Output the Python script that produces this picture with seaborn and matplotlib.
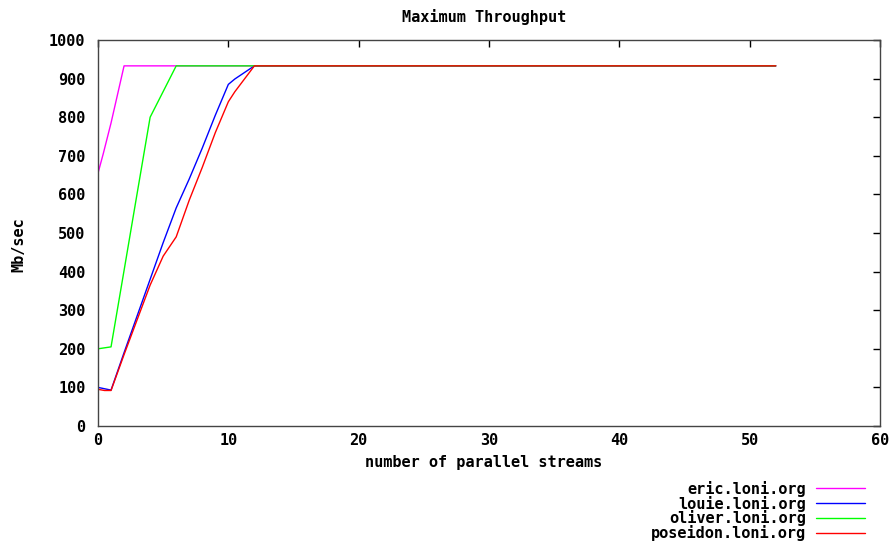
import matplotlib
matplotlib.use("Agg")
import matplotlib.pyplot as plt
import seaborn as sns
import pandas as pd

series_names = ["eric.loni.org", "louie.loni.org", "oliver.loni.org", "poseidon.loni.org"]
colors = ["#ff00ff", "#0000ff", "#00ff00", "#ff0000"]

eric_x = [0, 0.4, 1, 2, 52]
eric_y = [655, 705, 785, 933, 933]

louie_x = [0, 1, 2, 3, 4, 5, 6, 7, 8, 9, 10, 10.5, 12, 52]
louie_y = [100, 93, 190, 285, 380, 475, 565, 640, 720, 805, 885, 899, 933, 933]

oliver_x = [0, 1, 2, 3, 4, 6, 52]
oliver_y = [200, 205, 403, 602, 800, 933, 933]

poseidon_x = [0, 0.5, 1, 2, 3, 4, 5, 6, 7, 8, 9, 10, 10.5, 12, 52]
poseidon_y = [95, 92, 92, 185, 275, 365, 440, 490, 585, 670, 760, 840, 866, 933, 933]

xs = [eric_x, louie_x, oliver_x, poseidon_x]
ys = [eric_y, louie_y, oliver_y, poseidon_y]

frames = []
for name, x, y in zip(series_names, xs, ys):
    frames.append(pd.DataFrame({"streams": x, "mbps": y, "host": name}))
df = pd.concat(frames, ignore_index=True)

sns.set_theme(style="white")
plt.rcParams["font.family"] = ["DejaVu Sans Mono", "DejaVu Sans"]
plt.rcParams["font.weight"] = "bold"
plt.rcParams["text.color"] = "black"
plt.rcParams["axes.labelcolor"] = "black"

FS = 11

fig = plt.figure(figsize=(8.93, 5.41), dpi=100)
ax = fig.add_axes([98 / 893, 1 - 426 / 541, (880 - 98) / 893, (426 - 40) / 541])

sns.lineplot(data=df, x="streams", y="mbps", hue="host", hue_order=series_names,
             palette=colors, linewidth=1.0, sort=False, estimator=None, ax=ax, legend=True)

ax.set_xlim(0, 60)
ax.set_ylim(0, 1000)
ax.set_xticks(range(0, 61, 10))
ax.set_yticks(range(0, 1001, 100))
ax.tick_params(direction="in", length=5, width=1, top=True, right=True,
               labelsize=FS, colors="black")
ax.tick_params(axis="y", pad=9)
ax.tick_params(axis="x", pad=5)
for lbl in ax.get_xticklabels() + ax.get_yticklabels():
    lbl.set_fontweight("bold")
for s in ax.spines.values():
    s.set_visible(True)
    s.set_color("#444444")
    s.set_linewidth(1.0)

ax.set_xlabel("")
ax.set_ylabel("")
fig.text(484 / 893, 1 - 463 / 541, "number of parallel streams", ha="center", va="center",
         fontsize=FS, fontweight="bold")
fig.text(19 / 893, 1 - 245 / 541, "Mb/sec", ha="center", va="center", rotation=90,
         fontsize=FS, fontweight="bold")
fig.text(484 / 893, 1 - 17 / 541, "Maximum Throughput", ha="center", va="center",
         fontsize=FS, fontweight="bold")

handles, labels = ax.get_legend_handles_labels()
ax.legend(handles, labels, loc="upper right", bbox_to_anchor=(873 / 893, 1 - 473 / 541),
          bbox_transform=fig.transFigure, frameon=False, markerfirst=False,
          prop={"weight": "bold", "size": FS}, handlelength=3.2,
          labelspacing=-0.07, borderpad=0, handletextpad=0.7)

fig.savefig("out.png", dpi=100, facecolor="white")
